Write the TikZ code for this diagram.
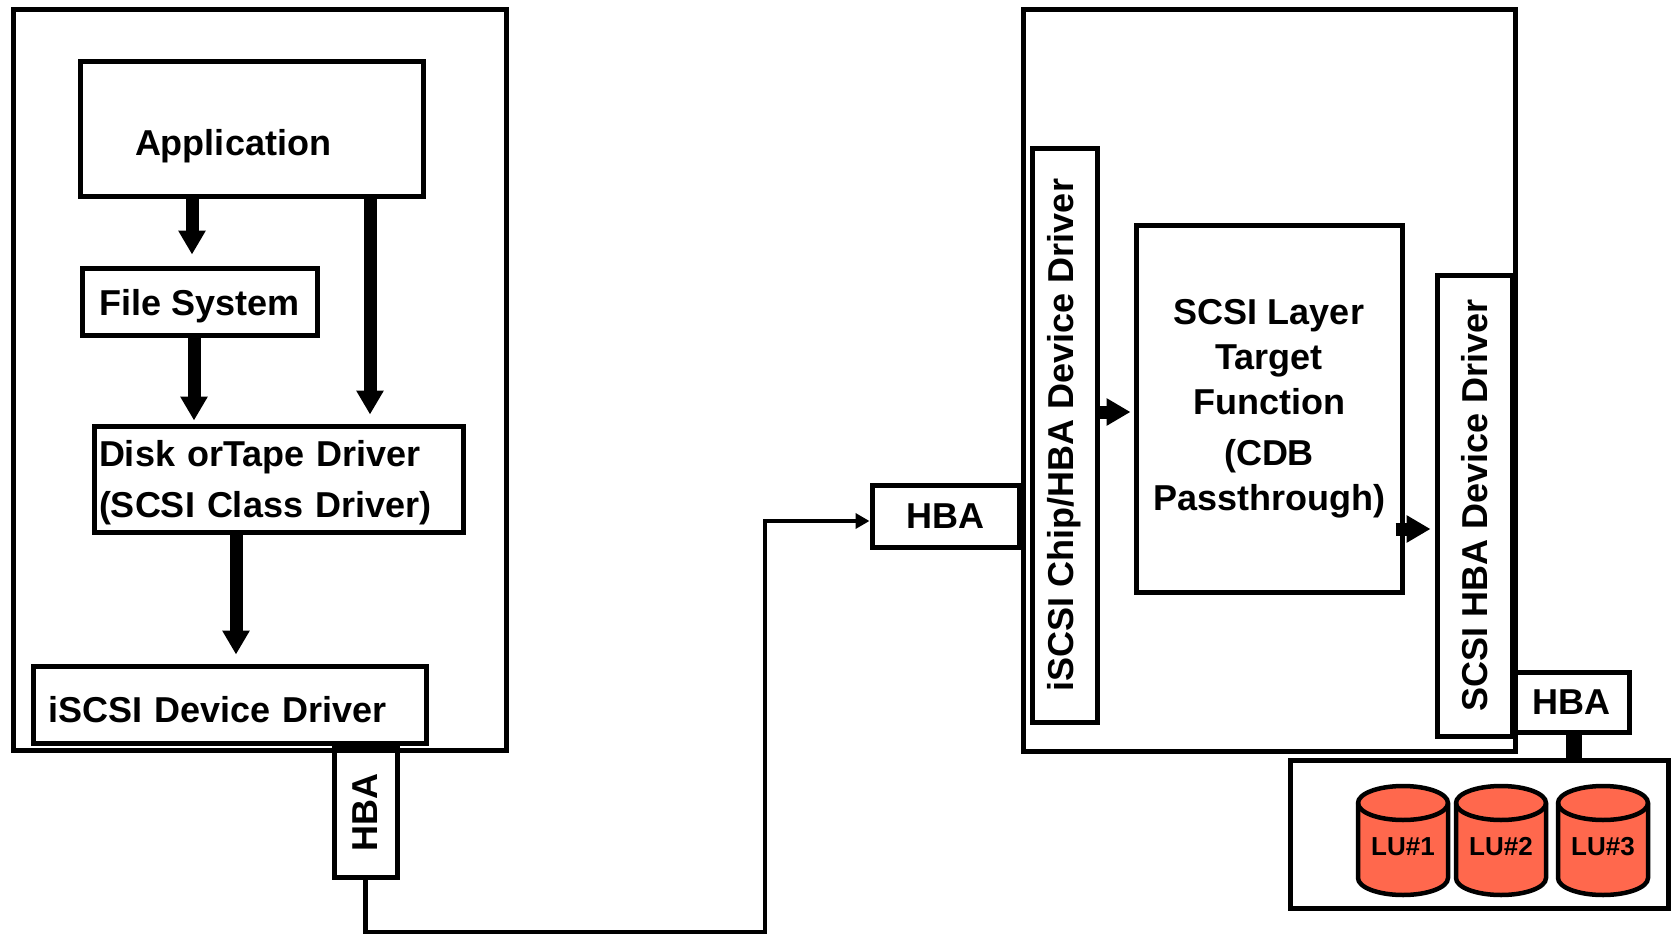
\documentclass[tikz,border=0pt]{standalone}
\usepackage{fontspec}
\setmainfont{Liberation Sans}
\usetikzlibrary{positioning}
\usetikzlibrary{arrows.meta}
\definecolor{lufill}{RGB}{255,104,77}

\begin{document}
\begin{tikzpicture}[x=1pt, y=1pt,
    box/.style={draw, rectangle, line width=5pt, inner sep=0pt, font=\bfseries\fontsize{36pt}{46pt}\selectfont},
    frame/.style={draw, rectangle, line width=5pt, inner sep=0pt},
    flow/.style={line width=13pt, -{Triangle[length=24pt,width=26pt]}},
    link/.style={line width=4.5pt, -{Triangle[length=14pt,width=15pt]}},
    bus/.style={line width=16pt},
    can/.style={draw, line width=4.5pt, fill=lufill},
    lutext/.style={font=\bfseries\fontsize{26pt}{30pt}\selectfont, inner sep=0pt}]

    \useasboundingbox (0,0) rectangle (1671,-934);

    % Initiator
    \node (host) [frame, minimum width=493pt, minimum height=740pt] at (260,-380) {};
    \node (app) [box, minimum width=343pt, minimum height=134pt, align=left, text width=233pt, inner xsep=55pt, text height=59pt, text depth=7pt] at (251.5,-129) {Application};
    \node (fs) [box, minimum width=235pt, minimum height=67pt, text height=34pt, text depth=7pt] at (199.5,-301.5) {File System};
    \node (disk) [box, minimum width=369pt, minimum height=106pt, align=left, text width=359pt, inner xsep=5pt, text height=26pt, text depth=51pt, font=\bfseries\fontsize{36pt}{51pt}\selectfont] at (278.5,-479) {Disk orTape Driver\\(SCSI Class Driver)};
    \node (iscsi) [box, minimum width=393pt, minimum height=77pt, align=left, text width=363pt, inner xsep=15pt, text height=35pt, text depth=0pt] at (229.5,-704.5) {iSCSI Device Driver};
    \node (hbaL) [box, rotate=90, minimum width=130pt, minimum height=63pt] at (365.5,-812) {HBA};

    % Target
    \node (target) [frame, minimum width=492pt, minimum height=741pt] at (1269,-380.5) {};
    \node (hbaM) [box, minimum width=147pt, minimum height=62pt] at (945.5,-516) {HBA};
    \node (chip) [box, rotate=90, minimum width=574pt, minimum height=65pt] at (1064.5,-435) {iSCSI Chip/HBA Device Driver};
    \node (layer) [box, minimum width=266pt, minimum height=367pt, align=center, font=\bfseries\fontsize{36pt}{45pt}\selectfont] at (1269,-408.5) {SCSI Layer\\Target\\Function\\[6pt](CDB\\Passthrough)};
    \node (hbadrv) [box, rotate=90, minimum width=461pt, minimum height=75pt] at (1474.5,-505.5) {SCSI HBA Device Driver};
    \node (hbaR) [box, minimum width=116pt, minimum height=60pt] at (1571,-702) {HBA};

    % Logical units
    \node (lubox) [frame, minimum width=378pt, minimum height=148pt] at (1479,-834) {};
    \foreach \cx/\n in {1403/1, 1501/2, 1603/3} {
        \filldraw[can] (\cx-45,-803) -- (\cx-45,-878)
            arc[start angle=180, end angle=360, x radius=45, y radius=17]
            -- (\cx+45,-803)
            arc[start angle=0, end angle=180, x radius=45, y radius=17] -- cycle;
        \draw[line width=4.5pt] (\cx-45,-803) arc[start angle=180, end angle=360, x radius=45, y radius=17];
        \node (lu\n) [lutext] at (\cx,-847) {LU\#\n};
    }

    % Arrows
    \draw[flow] ([xshift=-59.5pt]app.south) -- ([xshift=-7.5pt,yshift=11pt]fs.north);
    \draw[flow] ([xshift=118.5pt]app.south) -- ([xshift=91.5pt,yshift=9pt]disk.north);
    \draw[flow] ([xshift=-5.5pt]fs.south) -- ([xshift=-84.5pt,yshift=3pt]disk.north);
    \draw[flow] ([xshift=-42.5pt]disk.south) -- ([xshift=6.5pt,yshift=9pt]iscsi.north);
    \draw[flow] ([yshift=23pt]chip.south) -- ([xshift=-3pt,yshift=-3.5pt]layer.west);
    \draw[flow] ([xshift=-9pt,yshift=-120.5pt]layer.east) -- ([xshift=-4pt,yshift=-23.5pt]hbadrv.north);

    % Links
    \coordinate (bend) at (765,-932);
    \draw[link] (hbaL.west) |- (bend) |- ([yshift=-5pt]hbaM.west);
    \draw[bus] ([xshift=2.5pt]hbaR.south) -- ([xshift=2.5pt]hbaR.south |- lubox.north);

\end{tikzpicture}
\end{document}
